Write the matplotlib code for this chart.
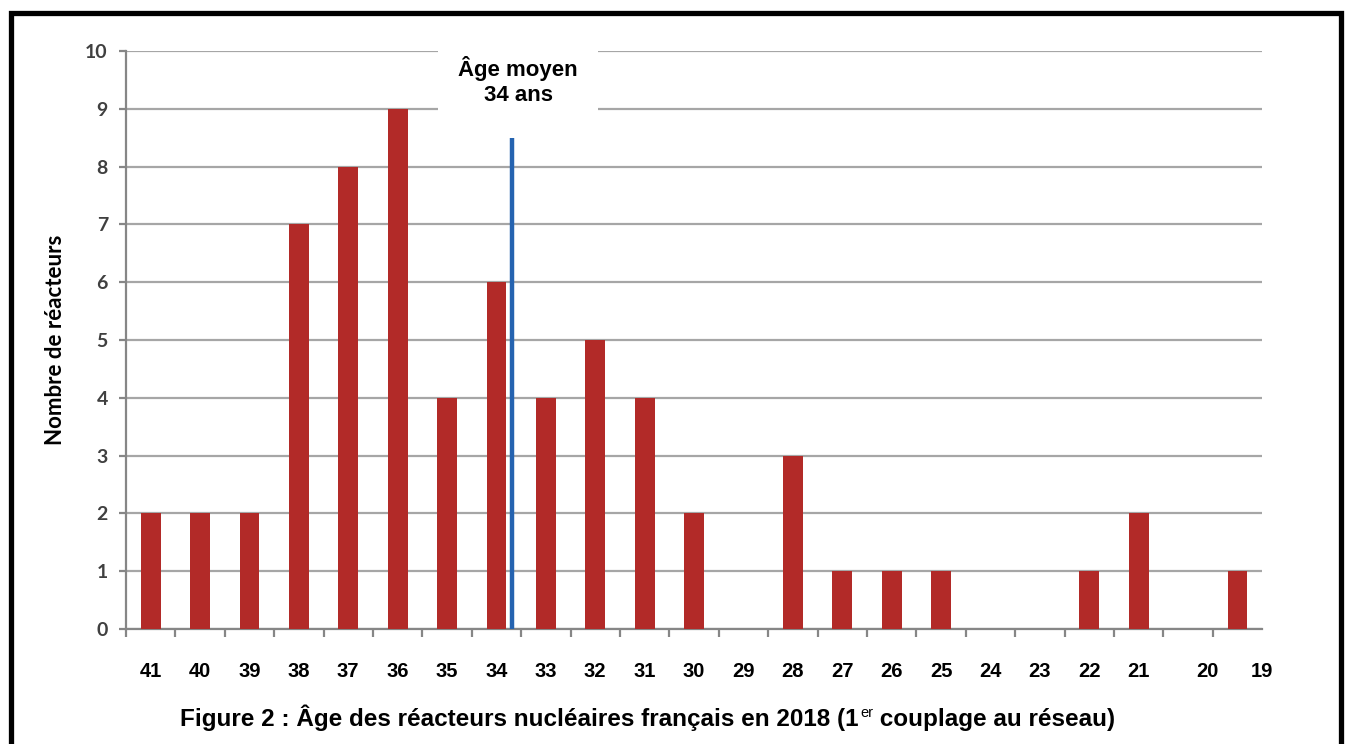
import numpy as np
import matplotlib.pyplot as plt
from matplotlib.patches import Rectangle

# ages (years since first grid connection) and number of reactors
ages = ['41', '40', '39', '38', '37', '36', '35', '34', '33', '32', '31', '30',
        '29', '28', '27', '26', '25', '24', '23', '22', '21', '20', '19']
reactors = [2, 2, 2, 7, 8, 9, 4, 6, 4, 5, 4, 2, 0, 3, 1, 1, 1, 0, 0, 1, 2, 0, 1]
# where the original puts its age labels (category index, last two are shifted)
label_pos = [0, 1, 2, 3, 4, 5, 6, 7, 8, 9, 10, 11, 12, 13, 14, 15, 16, 17, 18,
             19, 20, 21.4, 22.5]
mean_age_x = 7.31
mean_age_top = 8.5

bar_color = '#B22A28'
line_color = '#2563B0'
axis_gray = '#868686'

fig = plt.figure(figsize=(13.47, 7.44), dpi=100)
ax = fig.add_axes([0.0935, 0.1546, 0.8435, 0.777])

x = np.arange(len(ages))
ax.bar(x, reactors, width=0.4, color=bar_color, zorder=3)
ax.plot([mean_age_x, mean_age_x], [0, mean_age_top], color=line_color,
        lw=3.2, solid_capstyle='butt', zorder=4)

ax.set_xlim(-0.5, len(ages) - 0.5)
ax.set_ylim(0, 10)
ax.set_yticks(range(11))
ax.yaxis.grid(True, color='#A6A6A6', lw=1.6)
ax.set_axisbelow(True)

for s in ['top', 'right']:
    ax.spines[s].set_visible(False)
for s in ['left', 'bottom']:
    ax.spines[s].set_color(axis_gray)
    ax.spines[s].set_linewidth(1.6)

ax.set_xticks(label_pos)
ax.set_xticklabels(ages, fontsize=14.5, fontweight='bold',
                   family='Liberation Sans')
ax.set_xticks(np.arange(-0.5, len(ages)), minor=True)
ax.tick_params(axis='x', which='major', length=0, pad=24)
ax.tick_params(axis='x', which='minor', length=6, width=1.6,
               color=axis_gray, direction='out')
ax.tick_params(axis='y', length=5, width=1.6, color=axis_gray, pad=8,
               labelsize=14, labelcolor='#404040')
for t in ax.get_yticklabels():
    t.set_family('Lato')
    t.set_fontweight('bold')

ax.set_ylabel('Nombre de réacteurs', fontsize=16, fontweight='bold',
              family='Lato', labelpad=14)

ax.text(7.44, 9.48, 'Âge moyen\n34 ans', ha='center', va='center',
        fontsize=16, fontweight='bold', family='Liberation Sans',
        linespacing=1.2, zorder=5,
        bbox=dict(boxstyle='square,pad=0.9', fc='white', ec='none'))

# caption under the chart, with the superscript "er"
cap_size = 17.5
t1 = fig.text(0.1336, 0.035,
              'Figure 2 : Âge des réacteurs nucléaires français en 2018 (1',
              fontsize=cap_size, fontweight='bold', family='Liberation Sans',
              va='center', ha='left')
t2 = ax.annotate('er', xy=(1.003, 0.42), xycoords=t1, fontsize=10.5,
                 family='Liberation Sans', va='bottom', ha='left',
                 annotation_clip=False)
ax.annotate(' couplage au réseau)', xy=(1, 0), xycoords=(t2, t1),
            fontsize=cap_size, fontweight='bold', family='Liberation Sans',
            va='bottom', ha='left', annotation_clip=False)

# frame around the whole figure
fig.patches.append(Rectangle((0.0085, -0.05), 0.987, 1.0325,
                             transform=fig.transFigure, fill=False,
                             ec='black', lw=3.8))

fig.savefig('out.png', dpi=100)
